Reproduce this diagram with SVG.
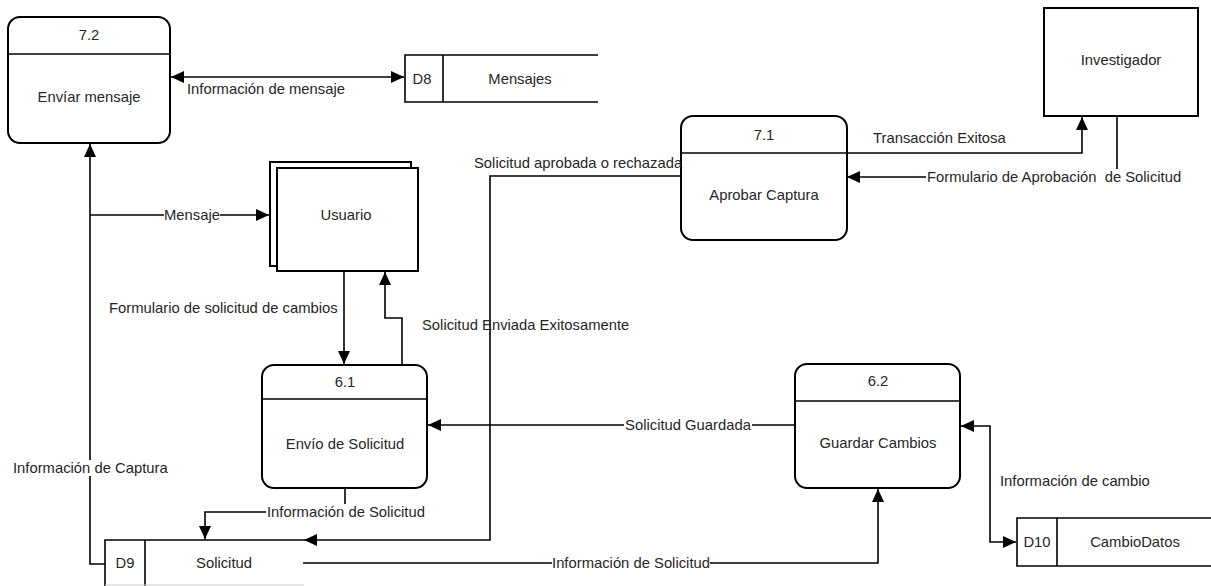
<svg xmlns="http://www.w3.org/2000/svg" width="1211" height="586" viewBox="0 0 1211 586">
<style>
text{font-family:"Liberation Sans",Arial,sans-serif;font-size:14.8px;fill:#262626;dominant-baseline:central}
.c{text-anchor:middle}
.box{fill:#fff;stroke:#000;stroke-width:2}
.ln{fill:none;stroke:#000;stroke-width:1.6}
.conn path{fill:none;stroke:#000;stroke-width:1.6}
.bg{fill:#fff}
</style>
<defs>
<marker id="ah" markerUnits="userSpaceOnUse" markerWidth="14" markerHeight="12" refX="13" refY="6" orient="auto-start-reverse">
<path d="M0,0 L13,6 L0,12 Z" fill="#000"/>
</marker>
</defs>
<rect width="1211" height="586" fill="#fff"/>

<g id="node-7-2">
<rect class="box" x="8" y="17" width="162" height="126" rx="12"/>
<line class="ln" x1="8" y1="54" x2="170" y2="54" stroke-width="2"/>
<text class="c" x="89" y="35">7.2</text>
<text class="c" x="89" y="97">Envíar mensaje</text>
</g>

<g id="store-d8">
<path class="ln" d="M598,55 H405 V102 H598 M443,55 V102" stroke-width="2"/>
<text class="c" x="422" y="79">D8</text>
<text class="c" x="520" y="79">Mensajes</text>
</g>

<g id="entity-usuario">
<rect class="box" x="270" y="162" width="141" height="104"/>
<rect class="box" x="277" y="168" width="141" height="103"/>
<text class="c" x="346" y="215">Usuario</text>
</g>

<g id="node-7-1">
<rect class="box" x="681" y="116" width="166" height="124" rx="12"/>
<line class="ln" x1="681" y1="153" x2="847" y2="153" stroke-width="2"/>
<text class="c" x="764" y="135">7.1</text>
<text class="c" x="764" y="195">Aprobar Captura</text>
</g>

<g id="entity-investigador">
<rect class="box" x="1044" y="8" width="154" height="108"/>
<text class="c" x="1121" y="60">Investigador</text>
</g>

<g id="node-6-1">
<rect class="box" x="262" y="365" width="165" height="123" rx="12"/>
<line class="ln" x1="262" y1="399" x2="427" y2="399" stroke-width="2"/>
<text class="c" x="345" y="382">6.1</text>
<text class="c" x="345" y="444">Envío de Solicitud</text>
</g>

<g id="node-6-2">
<rect class="box" x="795" y="364" width="165" height="124" rx="12"/>
<line class="ln" x1="795" y1="401" x2="960" y2="401" stroke-width="2"/>
<text class="c" x="878" y="381">6.2</text>
<text class="c" x="878" y="443">Guardar Cambios</text>
</g>

<g id="store-d9">
<path class="ln" d="M304,540 H105 V586 M145,540 V586" stroke-width="2"/>
<line x1="105" y1="585" x2="304" y2="585" stroke="#ccc" stroke-width="1"/>
<text class="c" x="125" y="563">D9</text>
<text class="c" x="224" y="563">Solicitud</text>
</g>

<g id="store-d10">
<path class="ln" d="M1211,518 H1017 V566 H1211 M1057,518 V566" stroke-width="2"/>
<text class="c" x="1037" y="542">D10</text>
<text class="c" x="1135" y="542">CambioDatos</text>
</g>

<g class="conn" id="connectors">
<path d="M171,77 H404" marker-start="url(#ah)" marker-end="url(#ah)"/>
<path d="M105,564 H90 V144" marker-end="url(#ah)"/>
<path d="M90,215 H269" marker-end="url(#ah)"/>
<path d="M344,271 V364" marker-end="url(#ah)"/>
<path d="M402,365 V318 H385 V272" marker-end="url(#ah)"/>
<path d="M345,488 V512 H205 V539" marker-end="url(#ah)"/>
<path d="M681,176 H490 V540 H304" marker-end="url(#ah)"/>
<path d="M303,563 H878 V489" marker-end="url(#ah)"/>
<path d="M795,425 H428" marker-end="url(#ah)"/>
<path d="M1016,542 H990 V426 H961" marker-start="url(#ah)" marker-end="url(#ah)"/>
<path d="M847,153 H1082 V117" marker-end="url(#ah)"/>
<path d="M1117,116 V177 H847" marker-end="url(#ah)"/>
</g>

<g id="labels">
<text x="187" y="89">Información de mensaje</text>
<rect class="bg" x="164" y="207" width="56" height="16"/>
<text class="c" x="192" y="215">Mensaje</text>
<text x="109" y="308">Formulario de solicitud de cambios</text>
<text x="422" y="325">Solicitud Enviada Exitosamente</text>
<text x="474" y="163">Solicitud aprobada o rechazada</text>
<rect class="bg" x="12" y="460" width="157" height="16"/>
<text x="13" y="468">Información de Captura</text>
<rect class="bg" x="266" y="504" width="159" height="16"/>
<text x="267" y="512">Información de Solicitud</text>
<rect class="bg" x="624" y="417" width="128" height="16"/>
<text class="c" x="688" y="425">Solicitud Guardada</text>
<rect class="bg" x="552" y="555" width="158" height="16"/>
<text class="c" x="631" y="563">Información de Solicitud</text>
<text x="1000" y="481">Información de cambio</text>
<text x="873" y="138">Transacción Exitosa</text>
<rect class="bg" x="926" y="169" width="258" height="16"/>
<text x="927" y="177" xml:space="preserve">Formulario de Aprobación  de Solicitud</text>
</g>
</svg>
